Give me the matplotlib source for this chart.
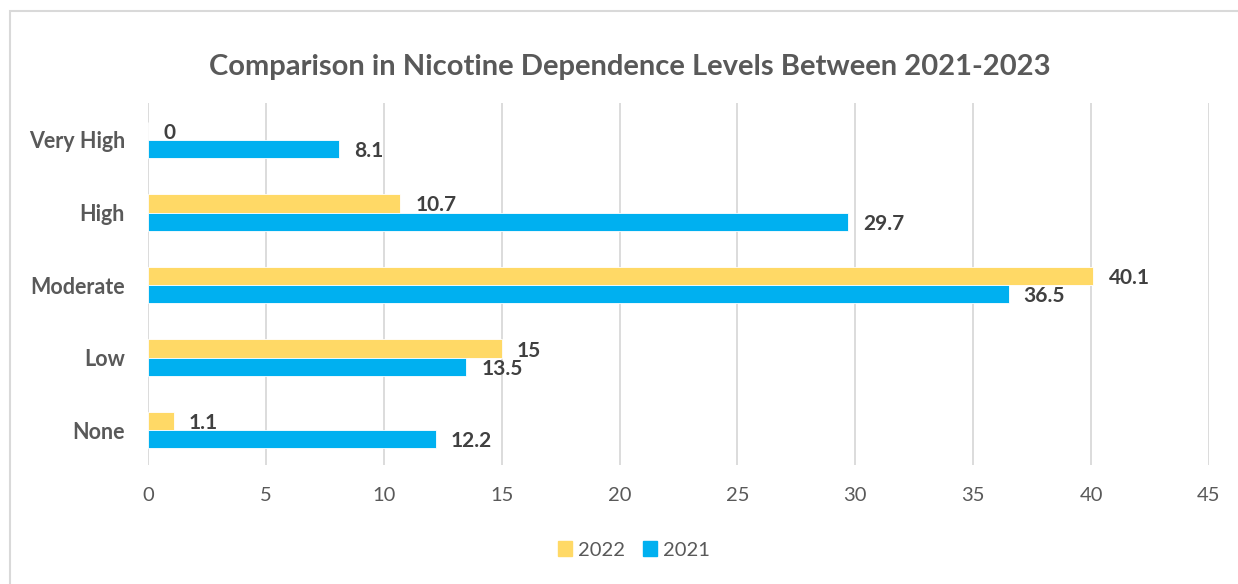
import matplotlib
matplotlib.use("Agg")
import matplotlib.pyplot as plt
from matplotlib.patches import Rectangle
import numpy as np

categories = ["None", "Low", "Moderate", "High", "Very High"]
values_2022 = [1.1, 15, 40.1, 10.7, 0]
values_2021 = [12.2, 13.5, 36.5, 29.7, 8.1]
series_labels = ["2022", "2021"]
x_ticks = [0, 5, 10, 15, 20, 25, 30, 35, 40, 45]
title = "Comparison in Nicotine Dependence Levels Between 2021-2023"

plt.rcParams['font.family'] = ['Lato', 'DejaVu Sans']

W, H = 1238, 584
fig = plt.figure(figsize=(W / 100, H / 100), dpi=100)
fig.patches.append(Rectangle((9.5 / W, -0.1), 1.2, 1 - 10.5 / H + 0.1, transform=fig.transFigure,
                             fill=False, edgecolor="#D9D9D9", linewidth=1.5))

ax = fig.add_axes([148 / W, 1 - 465 / H, (1209 - 148) / W, (465 - 103) / H])

yellow = "#FFD966"
blue = "#00B0F0"
y = np.arange(len(categories))
h = 0.25
ax.barh(y + h / 2, values_2022, height=h, color=yellow, edgecolor="white", linewidth=0.6,
        label=series_labels[0], zorder=3)
ax.barh(y - h / 2, values_2021, height=h, color=blue, edgecolor="white", linewidth=0.6,
        label=series_labels[1], zorder=3)

lab_kw = dict(va="center", ha="left", fontsize=15, fontweight="bold", color="#404040",
              textcoords="offset pixels")
for yi, v in zip(y, values_2022):
    ax.annotate(f"{v:g}", (v, yi + h / 2), xytext=(15, -2), **lab_kw)
for yi, v in zip(y, values_2021):
    ax.annotate(f"{v:g}", (v, yi - h / 2), xytext=(15, -2), **lab_kw)

ax.set_xlim(0, 45)
ax.set_ylim(-0.48, 4.51)
ax.set_xticks(x_ticks)
ax.set_yticks(y)
ax.set_yticklabels(categories, fontsize=15.5, fontweight="bold", color="#595959")
ax.tick_params(axis="x", labelsize=14.5, labelcolor="#595959", length=0, pad=16)
ax.tick_params(axis="y", length=0, pad=16.5)
ax.grid(axis="x", color="#D9D9D9", linewidth=1.3, zorder=0)
for s in ax.spines.values():
    s.set_visible(False)

fig.text(630 / W, 1 - 67 / H, title, ha="center", va="center", fontsize=21, fontweight="bold",
         color="#595959")

handles = [Rectangle((0, 0), 1, 1, color=yellow), Rectangle((0, 0), 1, 1, color=blue)]
fig.legend(handles, series_labels, loc="center", bbox_to_anchor=(634 / W, 1 - 550 / H), ncol=2,
           frameon=False, fontsize=14.5, labelcolor="#595959", handlelength=0.7, handleheight=0.7,
           handletextpad=0.3, columnspacing=0.9)

fig.savefig("out.png", dpi=100)
